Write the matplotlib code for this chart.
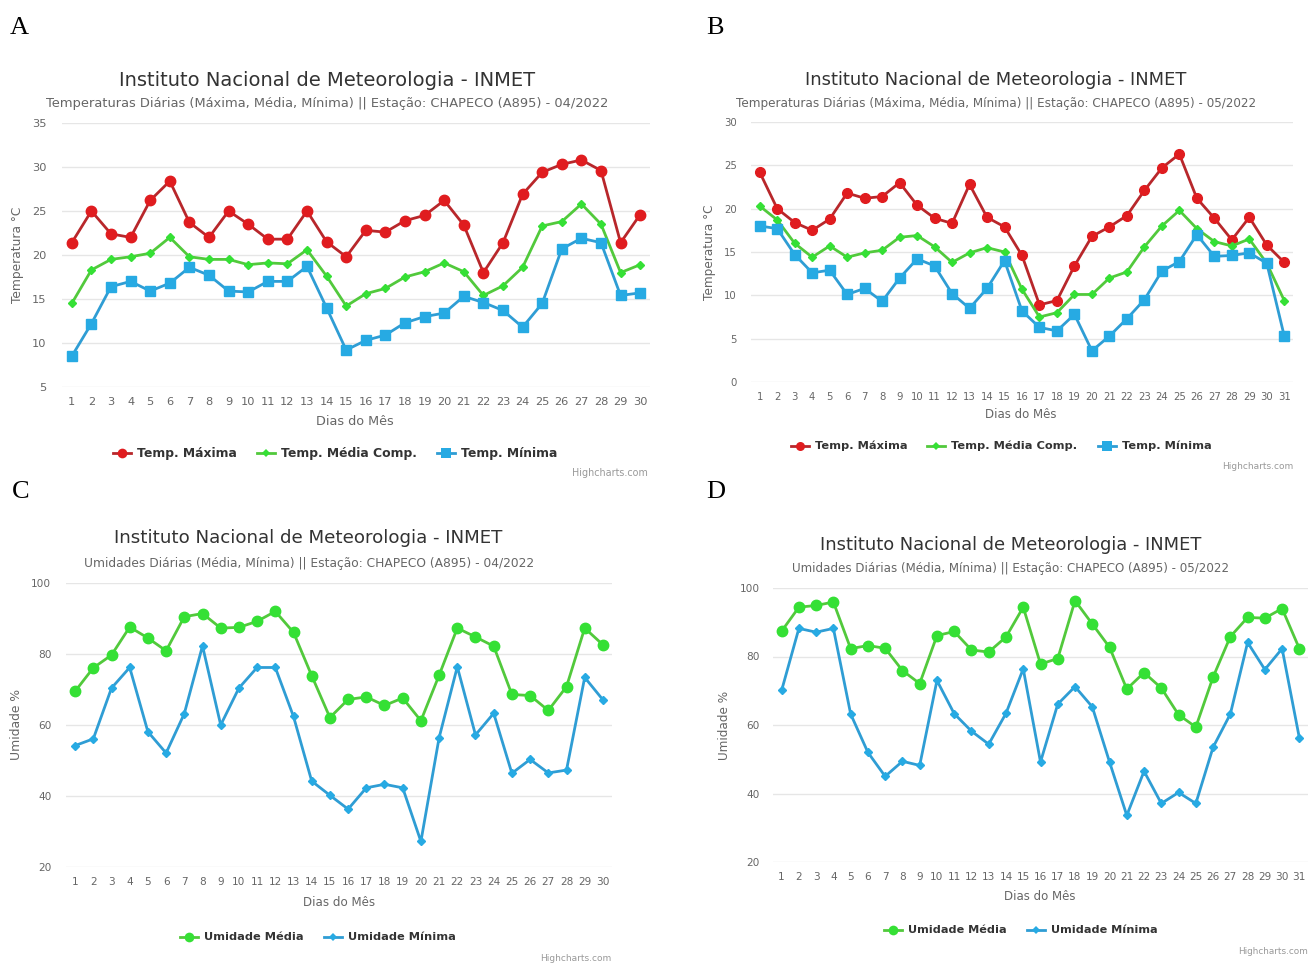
import matplotlib
matplotlib.use('Agg')
import matplotlib.pyplot as plt
from matplotlib.lines import Line2D

# ---------------- data ----------------
days_apr = list(range(1, 31))
days_may = list(range(1, 32))

tmax_apr = [21.4, 25.0, 22.4, 22.0, 26.2, 28.4, 23.7, 22.0, 25.0, 23.5, 21.8, 21.8, 25.0, 21.5, 19.8,
            22.8, 22.6, 23.9, 24.5, 26.2, 23.4, 18.0, 21.4, 26.9, 29.4, 30.3, 30.8, 29.6, 21.4, 24.6]
tmed_apr = [14.5, 18.3, 19.5, 19.8, 20.2, 22.0, 19.8, 19.5, 19.5, 18.9, 19.1, 19.0, 20.6, 17.6, 14.2,
            15.6, 16.2, 17.5, 18.1, 19.1, 18.1, 15.4, 16.5, 18.6, 23.3, 23.8, 25.8, 23.5, 18.0, 18.9]
tmin_apr = [8.5, 12.2, 16.4, 17.0, 15.9, 16.8, 18.6, 17.7, 15.9, 15.8, 17.0, 17.0, 18.7, 14.0, 9.2,
            10.3, 10.9, 12.3, 13.0, 13.4, 15.3, 14.6, 13.7, 11.8, 14.5, 20.7, 21.9, 21.4, 15.4, 15.7]

tmax_may = [24.2, 20.0, 18.4, 17.5, 18.8, 21.8, 21.2, 21.4, 23.0, 20.4, 18.9, 18.3, 22.8, 19.0, 17.9, 14.6,
            8.9, 9.4, 13.4, 16.8, 17.9, 19.2, 22.1, 24.7, 26.3, 21.2, 18.9, 16.4, 19.0, 15.8, 13.8]
tmed_may = [20.3, 18.7, 16.0, 14.4, 15.7, 14.4, 14.9, 15.2, 16.7, 16.9, 15.6, 13.8, 14.9, 15.5, 15.0, 10.7,
            7.5, 8.0, 10.1, 10.1, 12.0, 12.7, 15.6, 18.0, 19.8, 17.7, 16.2, 15.7, 16.5, 13.7, 9.4]
tmin_may = [18.0, 17.7, 14.7, 12.6, 12.9, 10.1, 10.8, 9.3, 12.0, 14.2, 13.4, 10.2, 8.5, 10.8, 14.0, 8.2,
            6.3, 5.9, 7.8, 3.6, 5.3, 7.3, 9.5, 12.8, 13.9, 17.0, 14.5, 14.6, 14.9, 13.7, 5.3]

umed_apr = [69.5, 76.1, 79.7, 87.6, 84.5, 80.9, 90.5, 91.4, 87.3, 87.5, 89.2, 92.0, 86.1, 73.9, 62.1,
            67.2, 67.9, 65.5, 67.6, 61.2, 74.0, 87.3, 84.8, 82.2, 68.6, 68.3, 64.1, 70.8, 87.3, 82.6]
umin_apr = [54.2, 56.1, 70.4, 76.2, 58.1, 52.1, 63.2, 82.3, 60.0, 70.4, 76.2, 76.2, 62.4, 44.2, 40.2,
            36.3, 42.3, 43.3, 42.3, 27.2, 56.4, 76.4, 57.2, 63.3, 46.4, 50.3, 46.5, 47.3, 73.4, 67.1]

umed_may = [87.4, 94.4, 94.9, 95.9, 82.3, 83.2, 82.4, 75.9, 72.1, 86.1, 87.3, 81.9, 81.3, 85.7, 94.4, 77.8,
            79.4, 96.3, 89.5, 82.7, 70.5, 75.3, 70.8, 63.0, 59.4, 74.0, 85.8, 91.4, 91.2, 94.0, 82.3]
umin_may = [70.1, 88.2, 87.1, 88.2, 63.2, 52.0, 45.0, 49.4, 48.2, 73.0, 63.3, 58.2, 54.4, 63.4, 76.4, 49.2,
            66.1, 71.2, 65.3, 49.2, 33.6, 46.5, 37.1, 40.3, 37.1, 53.5, 63.2, 84.1, 76.2, 82.3, 56.2]

temp_yticks_apr = [5, 10, 15, 20, 25, 30, 35]
temp_yticks_may = [0, 5, 10, 15, 20, 25, 30]
umid_yticks = [20, 40, 60, 80, 100]

title_text = "Instituto Nacional de Meteorologia - INMET"
sub_temp_apr = "Temperaturas Diárias (Máxima, Média, Mínima) || Estação: CHAPECO (A895) - 04/2022"
sub_temp_may = "Temperaturas Diárias (Máxima, Média, Mínima) || Estação: CHAPECO (A895) - 05/2022"
sub_umid_apr = "Umidades Diárias (Média, Mínima) || Estação: CHAPECO (A895) - 04/2022"
sub_umid_may = "Umidades Diárias (Média, Mínima) || Estação: CHAPECO (A895) - 05/2022"
temp_names = ["Temp. Máxima", "Temp. Média Comp.", "Temp. Mínima"]
umid_names = ["Umidade Média", "Umidade Mínima"]
ylabel_temp = "Temperatura °C"
ylabel_umid = "Umidade %"
xlabel = "Dias do Mês"
credit = "Highcharts.com"

# ---------------- style ----------------
W, H = 1310, 963
plt.rcParams['font.family'] = ['DejaVu Sans']
fig = plt.figure(figsize=(W / 100, H / 100), dpi=100)
fig.patch.set_facecolor('white')
renderer = fig.canvas.get_renderer()

RED_L, RED_M = '#b8272b', '#e01c1f'
GRN_L, GRN_M = '#52c93c', '#35e035'
BLU_L, BLU_M = '#2f9dd4', '#27aae3'
GRID = '#e6e6e6'
TXT = '#666666'


def fx(x):
    return x / W


def fy(y):
    return 1 - y / H


def fit_text(x, y, s, width, ha='center', rotation=0, **kw):
    t = fig.text(fx(x), fy(y), s, ha=ha, va='center', **kw)
    w = t.get_window_extent(renderer).width
    t.set_fontsize(t.get_fontsize() * width / w)
    t.set_rotation(rotation)
    return t


def add_axes(l, t, r, b):
    return fig.add_axes([fx(l), fy(b), (r - l) / W, (b - t) / H])


def style(ax, n, yticks, tsize, ypad, xpad):
    ax.set_xlim(0.5, n + 0.5)
    ax.set_ylim(yticks[0], yticks[-1])
    ax.set_yticks(yticks)
    ax.set_xticks(range(1, n + 1))
    ax.grid(axis='y', color=GRID, linewidth=1)
    ax.set_axisbelow(True)
    for s in ax.spines.values():
        s.set_visible(False)
    ax.tick_params(axis='both', length=0, labelsize=tsize, colors=TXT)
    ax.tick_params(axis='y', pad=ypad)
    ax.tick_params(axis='x', pad=xpad)


def legend(cx, cy, items, width_first, fsize):
    texts = []
    for lab, lc, mc, mk, ms in items:
        t = fig.text(0, 0, lab, fontsize=fsize, fontweight='bold', color='#333333', va='center')
        texts.append(t)
    w0 = texts[0].get_window_extent(renderer).width
    scale = width_first / w0
    for t in texts:
        t.set_fontsize(fsize * scale)
    widths = [t.get_window_extent(renderer).width for t in texts]
    seg, gap1, gap2 = 18, 6, 20
    total = sum(seg + gap1 + w for w in widths) + gap2 * (len(widths) - 1)
    x = cx - total / 2
    for (lab, lc, mc, mk, ms), t, w in zip(items, texts, widths):
        fig.add_artist(Line2D([fx(x), fx(x + seg)], [fy(cy), fy(cy)], color=lc, lw=2,
                              transform=fig.transFigure))
        fig.add_artist(Line2D([fx(x + seg / 2)], [fy(cy)], color=mc, marker=mk, markersize=ms,
                              markeredgewidth=0, linestyle='none', transform=fig.transFigure))
        t.set_position((fx(x + seg + gap1), fy(cy)))
        x += seg + gap1 + w + gap2


def panel_label(x, y, s):
    fig.text(fx(x), fy(y), s, fontsize=19, family='Liberation Serif', ha='left', va='center')


# ---------------- Panel A ----------------
axA = add_axes(62, 123, 650, 387)
style(axA, 30, temp_yticks_apr, 8.2, 11, 7)
axA.plot(days_apr, tmax_apr, color=RED_L, lw=2, marker='o', ms=7.5, mfc=RED_M, mec=RED_M)
axA.plot(days_apr, tmed_apr, color=GRN_L, lw=2, marker='D', ms=4.5, mfc=GRN_M, mec=GRN_M)
axA.plot(days_apr, tmin_apr, color=BLU_L, lw=2, marker='s', ms=7.5, mfc=BLU_M, mec=BLU_M)
fit_text(327, 80, title_text, 415, color='#333333')
fit_text(327, 103, sub_temp_apr, 561, color=TXT)
fit_text(355, 421, xlabel, 77, color=TXT)
fit_text(18, 255, ylabel_temp, 97, rotation=90, color=TXT)
legend(335, 453, [(temp_names[0], RED_L, RED_M, 'o', 7), (temp_names[1], GRN_L, GRN_M, 'D', 4.5),
                  (temp_names[2], BLU_L, BLU_M, 's', 7)], 100, 9)
fit_text(648, 473, credit, 76, ha='right', color='#999999')
panel_label(10, 28, "A")

# ---------------- Panel B ----------------
axB = add_axes(751, 122, 1293, 382)
style(axB, 31, temp_yticks_may, 7.3, 10, 7)
axB.plot(days_may, tmax_may, color=RED_L, lw=2, marker='o', ms=7, mfc=RED_M, mec=RED_M)
axB.plot(days_may, tmed_may, color=GRN_L, lw=2, marker='D', ms=4.2, mfc=GRN_M, mec=GRN_M)
axB.plot(days_may, tmin_may, color=BLU_L, lw=2, marker='s', ms=7, mfc=BLU_M, mec=BLU_M)
fit_text(996, 80, title_text, 382, color='#333333')
fit_text(996, 103, sub_temp_may, 519, color=TXT)
fit_text(1021, 414, xlabel, 71, color=TXT)
fit_text(709, 252, ylabel_temp, 96, rotation=90, color=TXT)
legend(1001, 446, [(temp_names[0], RED_L, RED_M, 'o', 6.5), (temp_names[1], GRN_L, GRN_M, 'D', 4.2),
                   (temp_names[2], BLU_L, BLU_M, 's', 6.5)], 92, 8.5)
fit_text(1293, 466, credit, 71, ha='right', color='#999999')
panel_label(706, 28, "B")

# ---------------- Panel C ----------------
axC = add_axes(66, 583, 612, 867)
style(axC, 30, umid_yticks, 7.6, 10.5, 7)
axC.plot(days_apr, umed_apr, color=GRN_L, lw=2, marker='o', ms=7.5, mfc=GRN_M, mec=GRN_M)
axC.plot(days_apr, umin_apr, color=BLU_L, lw=2, marker='D', ms=4.5, mfc=BLU_M, mec=BLU_M)
fit_text(308, 538, title_text, 389, color='#333333')
fit_text(309, 563, sub_umid_apr, 448, color=TXT)
fit_text(339, 902, xlabel, 72, color=TXT)
fit_text(17, 724, ylabel_umid, 71, rotation=90, color=TXT)
legend(318, 937, [(umid_names[0], GRN_L, GRN_M, 'o', 7), (umid_names[1], BLU_L, BLU_M, 'D', 4.5)],
       99, 9)
fit_text(611, 958, credit, 71, ha='right', color='#999999')
panel_label(12, 492, "C")

# ---------------- Panel D ----------------
axD = add_axes(773, 588, 1308, 862)
style(axD, 31, umid_yticks, 7.6, 9.5, 7)
axD.plot(days_may, umed_may, color=GRN_L, lw=2, marker='o', ms=7.5, mfc=GRN_M, mec=GRN_M)
axD.plot(days_may, umin_may, color=BLU_L, lw=2, marker='D', ms=4.5, mfc=BLU_M, mec=BLU_M)
fit_text(1011, 545, title_text, 382, color='#333333')
fit_text(1011, 568, sub_umid_may, 439, color=TXT)
fit_text(1040, 896, xlabel, 71, color=TXT)
fit_text(725, 725, ylabel_umid, 69, rotation=90, color=TXT)
legend(1021, 930, [(umid_names[0], GRN_L, GRN_M, 'o', 7), (umid_names[1], BLU_L, BLU_M, 'D', 4.5)],
       98, 9)
fit_text(1308, 951, credit, 70, ha='right', color='#999999')
panel_label(706, 492, "D")

fig.savefig('out.png', dpi=100, facecolor='white')
